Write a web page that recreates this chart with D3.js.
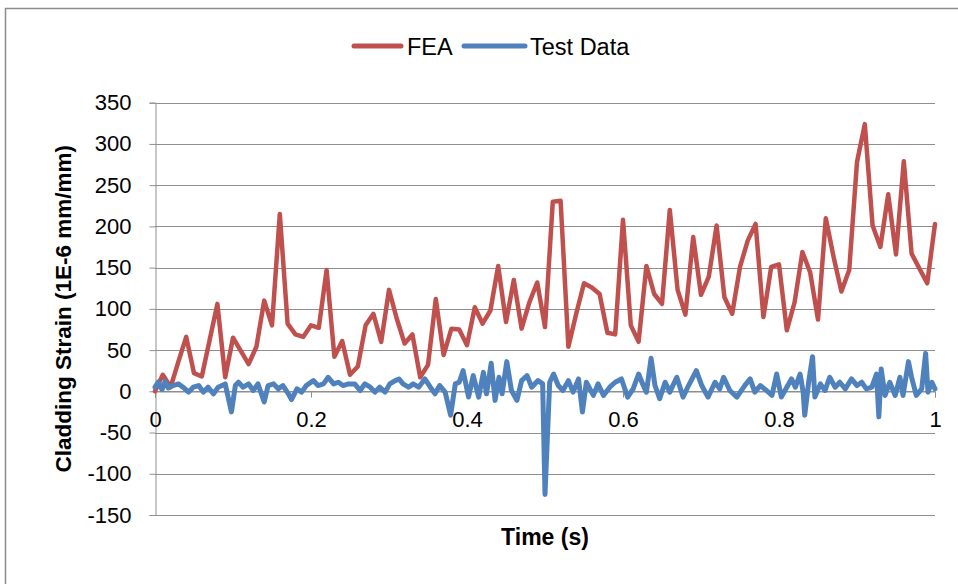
<!DOCTYPE html>
<html>
<head>
<meta charset="utf-8">
<script src="https://cdn.jsdelivr.net/npm/d3@7/dist/d3.min.js"></script>
<style>
  html, body { margin: 0; padding: 0; background: #fff; }
  svg { display: block; font-family: "Liberation Sans", Arial, sans-serif; }
</style>
</head>
<body>
<svg id="chart" width="958" height="584"></svg>
<script>
// ---- Data ----
const seriesNames = ["FEA", "Test Data"];
const xTicks = [0, 0.2, 0.4, 0.6, 0.8, 1];
const xTickLabels = ["0", "0.2", "0.4", "0.6", "0.8", "1"];
const yTicks = [-150, -100, -50, 0, 50, 100, 150, 200, 250, 300, 350];
const yTickLabels = ["-150", "-100", "-50", "0", "50", "100", "150", "200", "250", "300", "350"];

// FEA: one value every 0.01 s from 0 to 1
const feaValues = [
  0, 20, 5, 36, 66, 22, 18, 62, 106, 17,
  65, 49, 33, 54, 110, 80, 215, 82, 69, 66,
  80, 77, 147, 42, 61, 20, 30, 80, 94, 60,
  123, 88, 58, 69, 17, 32, 112, 44, 76, 75,
  56, 102, 82, 98, 152, 84, 135, 76, 108, 132,
  78, 230, 231, 54, 94, 131, 126, 118, 71, 69,
  208, 80, 60, 152, 118, 106, 220, 123, 93, 187,
  117, 139, 201, 114, 94, 151, 183, 203, 90, 151,
  154, 74, 108, 169, 144, 87, 210, 163, 121, 147,
  278, 324, 201, 175, 239, 166, 279, 167, 149, 131,
  203
];
const feaTimes = feaValues.map((_, i) => i / 100);

// Test data: vertices
const testTimes = [
  0.000, 0.004, 0.009, 0.013, 0.017, 0.023, 0.030, 0.036, 0.043, 0.049,
  0.056, 0.062, 0.068, 0.075, 0.081, 0.090, 0.098, 0.103, 0.107, 0.113,
  0.120, 0.126, 0.132, 0.140, 0.145, 0.152, 0.158, 0.164, 0.171, 0.175,
  0.182, 0.188, 0.194, 0.203, 0.209, 0.216, 0.222, 0.229, 0.235, 0.241,
  0.248, 0.256, 0.263, 0.269, 0.276, 0.282, 0.288, 0.295, 0.301, 0.308,
  0.313, 0.318, 0.325, 0.331, 0.338, 0.346, 0.353, 0.359, 0.365, 0.372,
  0.379, 0.385, 0.390, 0.395, 0.402, 0.408, 0.415, 0.421, 0.425, 0.431,
  0.436, 0.441, 0.445, 0.451, 0.457, 0.464, 0.470, 0.477, 0.483, 0.491,
  0.497, 0.500, 0.506, 0.511, 0.517, 0.523, 0.530, 0.536, 0.543, 0.548,
  0.553, 0.562, 0.568, 0.575, 0.583, 0.590, 0.598, 0.606, 0.613, 0.620,
  0.626, 0.630, 0.636, 0.641, 0.647, 0.654, 0.660, 0.669, 0.677, 0.684,
  0.694, 0.701, 0.709, 0.718, 0.724, 0.729, 0.737, 0.746, 0.756, 0.763,
  0.769, 0.776, 0.784, 0.791, 0.797, 0.803, 0.810, 0.816, 0.821, 0.827,
  0.831, 0.833, 0.838, 0.843, 0.846, 0.853, 0.859, 0.865, 0.872, 0.878,
  0.885, 0.893, 0.900, 0.906, 0.912, 0.919, 0.925, 0.928, 0.931, 0.936,
  0.942, 0.949, 0.955, 0.959, 0.966, 0.970, 0.976, 0.983, 0.988, 0.991,
  0.996, 1.000
];
const testValues = [
  5, 11, 2, 12, 4, 7, 9, 5, -1, 5,
  7, -1, 5, -3, 5, 9, -25, 7, 11, 5,
  9, 1, 9, -13, 7, 9, 3, 7, -3, -10,
  3, -1, 7, 13, 7, 9, 17, 9, 11, 7,
  9, 9, 1, 9, 5, -1, 5, -1, 9, 13,
  15, 9, 5, 9, 5, 15, 5, -3, 7, -1,
  -29, 9, 11, 25, -7, 19, -7, 23, -3, 34,
  -11, 17, -3, 36, 1, -11, 13, 19, 5, 13,
  9, -125, 11, 21, 7, 1, 13, -1, 15, -25,
  11, -5, 9, -5, 5, 11, 15, -7, 3, 21,
  7, -1, 40, 7, -9, 11, -1, 17, -7, 7,
  25, 7, -7, 11, 3, 17, 1, -7, 7, 15,
  -1, 7, 1, -5, 21, -7, 5, 15, 5, 21,
  -1, -29, 11, 42, -7, 9, 1, 17, 5, 11,
  3, 15, 7, 11, 3, 5, 21, -31, 27, -5,
  11, -5, 17, -5, 36, 17, -5, 3, 46, -1,
  11, 3
];

const colors = { "FEA": "#C0504D", "Test Data": "#4F81BD" };

// ---- Layout ----
const svg = d3.select("#chart");
const plot = { left: 155, right: 935, top: 102.7, bottom: 515 };

const x = d3.scaleLinear().domain([0, 1]).range([plot.left, plot.right]);
const y = d3.scaleLinear().domain([-150, 350]).range([plot.bottom, plot.top]);

// outer chart frame
svg.append("rect")
  .attr("x", 5.5).attr("y", 8.5).attr("width", 980).attr("height", 600)
  .attr("fill", "#fff").attr("stroke", "#8c8c8c").attr("stroke-width", 1.5);

// horizontal gridlines
svg.append("g").selectAll("line").data(yTicks).join("line")
  .attr("x1", plot.left).attr("x2", plot.right)
  .attr("y1", d => Math.round(y(d)) + 0.5).attr("y2", d => Math.round(y(d)) + 0.5)
  .attr("stroke", "#8f8f8f").attr("stroke-width", 1);

// y axis
const yAxis = svg.append("g")
  .attr("transform", `translate(${plot.left + 0.5},0)`)
  .call(d3.axisLeft(y).tickValues(yTicks).tickSize(6).tickPadding(18)
    .tickFormat((d, i) => yTickLabels[i]));
yAxis.select(".domain").attr("stroke", "#8f8f8f");
yAxis.selectAll(".tick line").attr("stroke", "#8f8f8f");
yAxis.selectAll(".tick text").attr("font-size", 22).attr("fill", "#000")
  .attr("font-family", "'Liberation Sans', Arial, sans-serif");

// x axis at y = 0
const xAxis = svg.append("g")
  .attr("transform", `translate(0,${Math.round(y(0)) + 0.5})`)
  .call(d3.axisBottom(x).tickValues(xTicks).tickSize(6).tickPadding(14)
    .tickFormat((d, i) => xTickLabels[i]));
xAxis.select(".domain").attr("stroke", "#8f8f8f");
xAxis.selectAll(".tick line").attr("stroke", "#8f8f8f");
xAxis.selectAll(".tick text").attr("font-size", 22).attr("fill", "#000")
  .attr("font-family", "'Liberation Sans', Arial, sans-serif");

// series lines
const line = d3.line().x(d => x(d[0])).y(d => y(d[1])).curve(d3.curveLinear);
const feaData = feaTimes.map((t, i) => [t, feaValues[i]]);
const testData = testTimes.map((t, i) => [t, testValues[i]]);

svg.append("path").datum(feaData)
  .attr("d", line).attr("fill", "none")
  .attr("stroke", colors["FEA"]).attr("stroke-width", 4.5)
  .attr("stroke-linejoin", "round").attr("stroke-linecap", "round");

svg.append("path").datum(testData)
  .attr("d", line).attr("fill", "none")
  .attr("stroke", colors["Test Data"]).attr("stroke-width", 5)
  .attr("stroke-linejoin", "round").attr("stroke-linecap", "round");

// legend
const legendItems = [
  { name: seriesNames[0], x1: 354, x2: 401, tx: 407 },
  { name: seriesNames[1], x1: 464, x2: 525, tx: 530 }
];
const lg = svg.append("g");
legendItems.forEach(it => {
  lg.append("line").attr("x1", it.x1).attr("x2", it.x2).attr("y1", 46).attr("y2", 46)
    .attr("stroke", colors[it.name]).attr("stroke-width", 5).attr("stroke-linecap", "round");
  lg.append("text").attr("x", it.tx).attr("y", 54.5).attr("font-size", 23.5)
    .attr("fill", "#000").text(it.name);
});

// axis titles
svg.append("text")
  .attr("transform", `translate(71,${(plot.top + plot.bottom) / 2}) rotate(-90)`)
  .attr("text-anchor", "middle").attr("font-size", 22.5).attr("font-weight", "bold")
  .attr("fill", "#000").text("Cladding Strain (1E-6 mm/mm)");

svg.append("text")
  .attr("x", (plot.left + plot.right) / 2).attr("y", 545)
  .attr("text-anchor", "middle").attr("font-size", 23).attr("font-weight", "bold")
  .attr("fill", "#000").text("Time (s)");
</script>
</body>
</html>
